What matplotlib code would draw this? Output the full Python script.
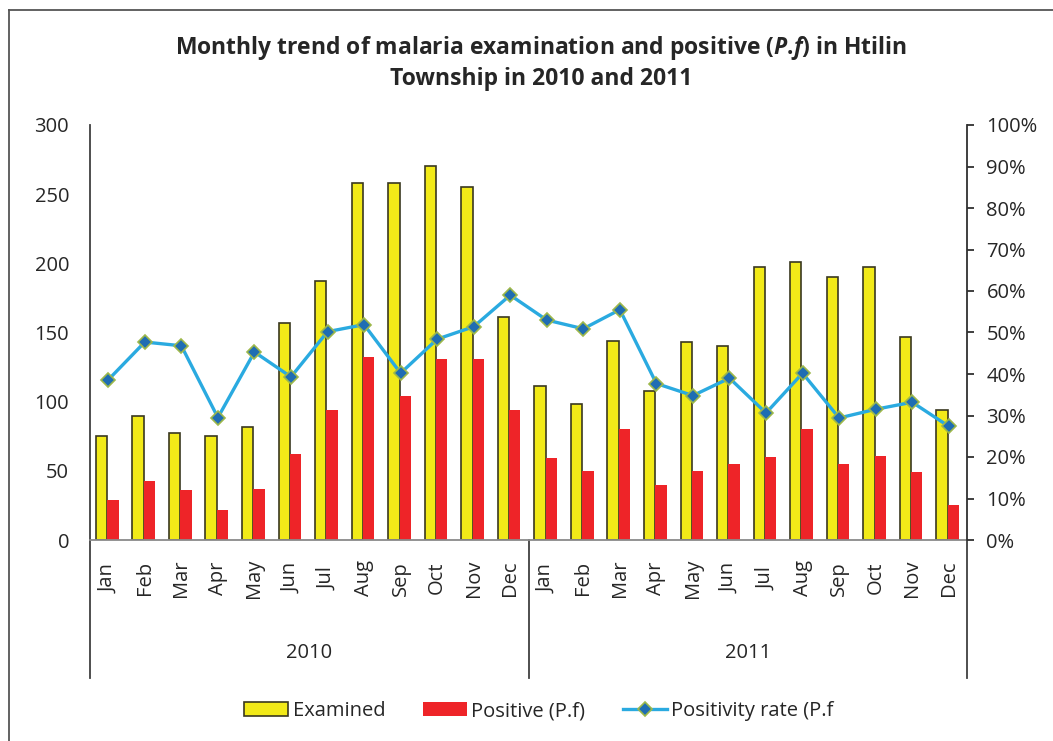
import matplotlib.pyplot as plt
import matplotlib.transforms as mtransforms
from matplotlib.patches import Patch
from matplotlib.lines import Line2D
from matplotlib.ticker import FuncFormatter, MultipleLocator

plt.rcParams['font.family'] = ['Open Sans', 'DejaVu Sans']
plt.rcParams['mathtext.fontset'] = 'custom'
plt.rcParams['mathtext.it'] = 'Open Sans:italic:bold'
plt.rcParams['mathtext.rm'] = 'Open Sans:bold'

months = ['Jan', 'Feb', 'Mar', 'Apr', 'May', 'Jun',
          'Jul', 'Aug', 'Sep', 'Oct', 'Nov', 'Dec']
years = ['2010', '2011']

examined = [75, 90, 77, 75, 82, 157, 187, 258, 258, 270, 255, 161,
            111, 98, 144, 108, 143, 140, 197, 201, 190, 197, 147, 94]
positive = [29, 43, 36, 22, 37, 62, 94, 132, 104, 131, 131, 94,
            59, 50, 80, 40, 50, 55, 60, 80, 55, 61, 49, 25]
# positivity rate in percent
rate = [38.6, 47.7, 46.8, 29.5, 45.3, 39.3, 50.2, 51.9, 40.2, 48.4, 51.4, 59.0,
        53.0, 50.9, 55.5, 37.7, 34.8, 39.0, 30.6, 40.2, 29.4, 31.5, 33.2, 27.4]

YELLOW = '#F2EA18'
RED = '#EE2428'
LINE = '#2AAAE0'
TXT = '#262626'
FS = 14.5

fig = plt.figure(figsize=(10.53, 7.41), dpi=100)
ax = fig.add_axes([90 / 1053, 1 - 540 / 741, 877 / 1053, 415 / 741])

n = len(examined)
x = list(range(n))
w = 0.31
ax.bar([i - w / 2 - 0.03 for i in x], examined, width=w, color=YELLOW,
       edgecolor='#3a3820', linewidth=1.2, zorder=2)
ax.bar([i + w / 2 - 0.03 for i in x], positive, width=w, color=RED,
       edgecolor='none', zorder=2)

ax.set_xlim(-0.5, n - 0.5)
ax.set_ylim(0, 300)
ax.yaxis.set_major_locator(MultipleLocator(50))
ax.tick_params(axis='y', length=0, pad=15, labelsize=FS, labelcolor=TXT)
ax.set_xticks([])
for s in ['top', 'right']:
    ax.spines[s].set_visible(False)
ax.spines['left'].set_color('#404040')
ax.spines['left'].set_linewidth(1.3)
ax.spines['bottom'].set_color('#8a8a8a')
ax.spines['bottom'].set_linewidth(1.3)

# two-level category axis: months, then years
trans = mtransforms.blended_transform_factory(ax.transData, ax.transAxes)
for i in x:
    ax.text(i, -0.092, months[i % 12], transform=trans, rotation=90,
            ha='center', va='center', fontsize=FS, color=TXT)
for k, yr in enumerate(years):
    ax.text(k * 12 + 5.5, -0.272, yr, transform=trans, ha='center',
            va='center', fontsize=FS, color=TXT)
for xs in [-0.5, 11.5, 23.5]:
    ax.plot([xs, xs], [0, -0.333], transform=trans, color='#404040',
            lw=1.3, clip_on=False)

ax2 = ax.twinx()
ax2.plot(x, [r / 100 for r in rate], color=LINE, lw=2.4, marker='D',
         markersize=7.5, markerfacecolor='#1F6DB3', markeredgecolor='#9DB84A',
         markeredgewidth=1.2, zorder=3)
ax2.set_ylim(0, 1)
ax2.yaxis.set_major_locator(MultipleLocator(0.1))
ax2.yaxis.set_major_formatter(FuncFormatter(lambda v, p: f'{v * 100:.0f}%'))
ax2.tick_params(axis='y', direction='out', length=5, width=1.3,
                color='#303030', pad=9, labelsize=FS, labelcolor=TXT)
for s in ['top', 'left', 'bottom']:
    ax2.spines[s].set_visible(False)
ax2.spines['right'].set_color('#303030')
ax2.spines['right'].set_linewidth(1.3)

fig.text(541 / 1053, 1 - 48 / 741,
         'Monthly trend of malaria examination and positive ($\\mathit{P}$.$\\mathit{f}$) in Htilin',
         ha='center', va='center', fontsize=16.5, fontweight='bold', color=TXT)
fig.text(541 / 1053, 1 - 79 / 741, 'Township in 2010 and 2011',
         ha='center', va='center', fontsize=16.5, fontweight='bold', color=TXT)

handles = [
    Patch(facecolor=YELLOW, edgecolor='#3a3820', linewidth=1.2),
    Patch(facecolor=RED, edgecolor='none'),
    Line2D([], [], color=LINE, lw=2.4, marker='D', markersize=7.5,
           markerfacecolor='#1F6DB3', markeredgecolor='#9DB84A',
           markeredgewidth=1.2),
]
labels = ['Examined', 'Positive (P.f)', 'Positivity rate (P.f']
fig.legend(handles, labels, loc='center', bbox_to_anchor=(539 / 1053, 1 - 711 / 741),
           ncol=3, frameon=False, fontsize=FS, handlelength=2.2,
           handletextpad=0.22, columnspacing=1.85, labelcolor=TXT)

# outer chart border
fig.add_artist(Line2D([9 / 1053, 9 / 1053], [0, 1 - 10 / 741],
                      transform=fig.transFigure, color='#555555', lw=1.3))
fig.add_artist(Line2D([9 / 1053, 1], [1 - 10 / 741, 1 - 10 / 741],
                      transform=fig.transFigure, color='#555555', lw=1.3))

fig.savefig('out.png', dpi=100)
